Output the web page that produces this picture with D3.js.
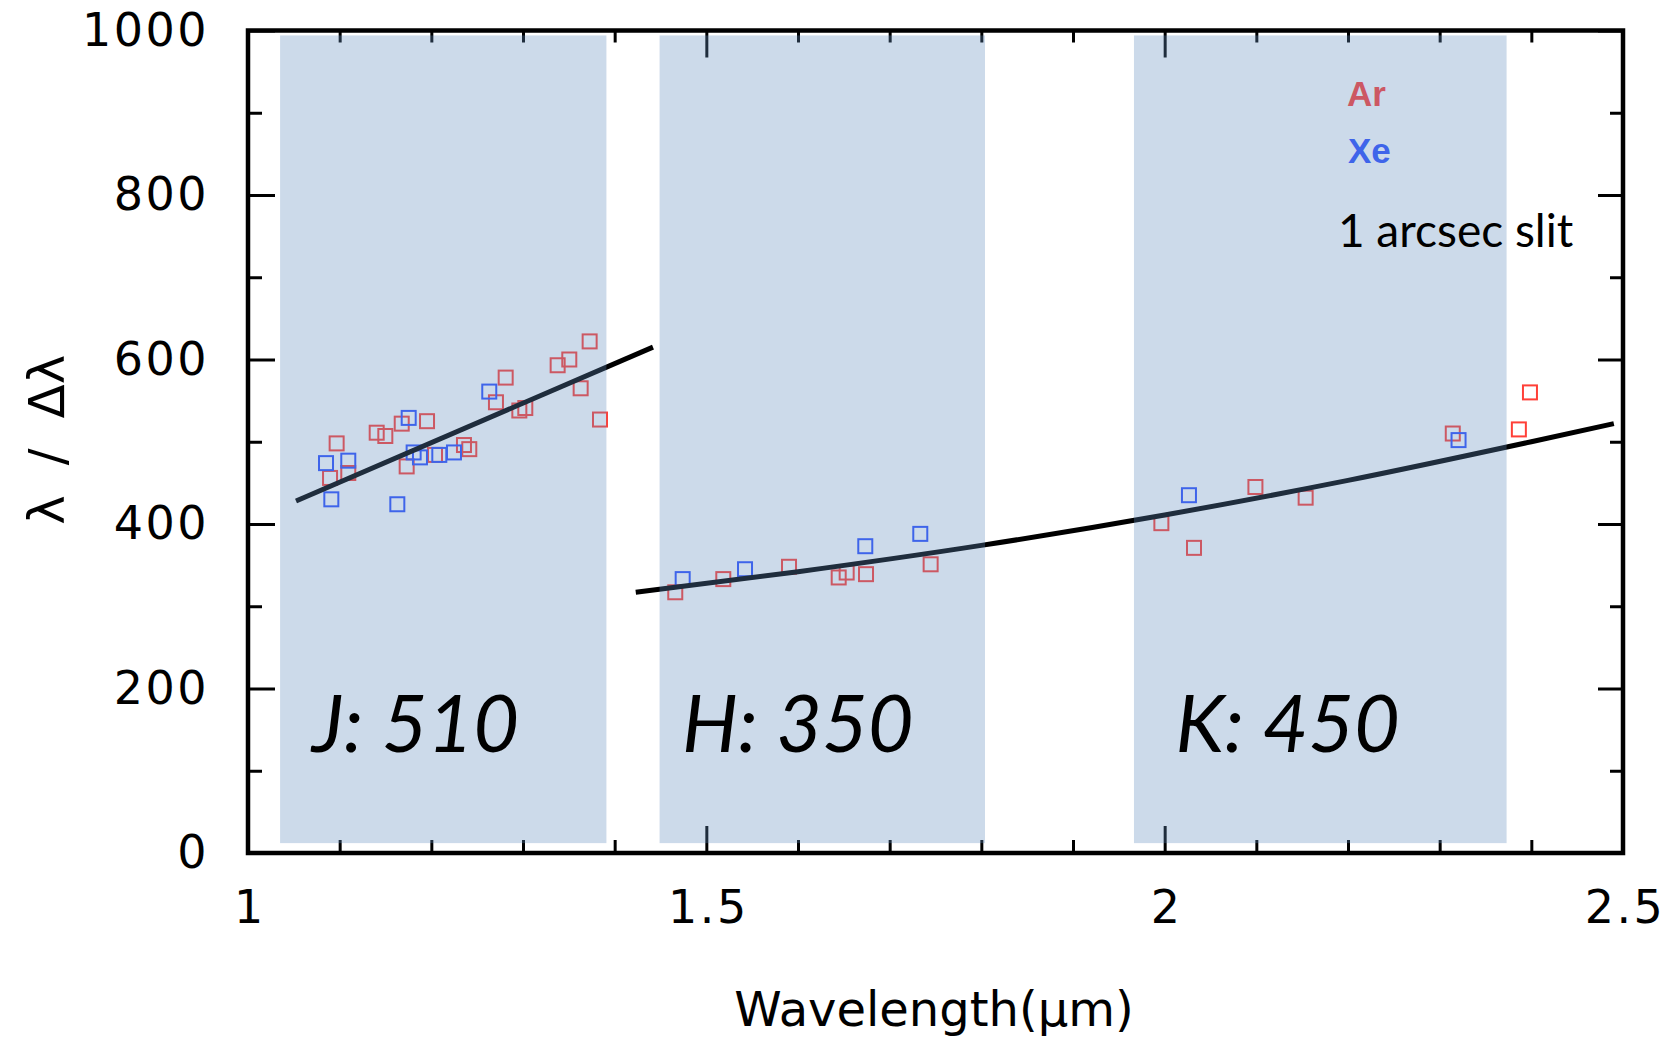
<!DOCTYPE html>
<html>
<head>
<meta charset="utf-8">
<script src="https://cdn.jsdelivr.net/npm/d3@7"></script>
<style>
  html, body { margin: 0; padding: 0; background: #ffffff; }
  svg { display: block; }
</style>
</head>
<body>
<svg id="chart" width="1671" height="1042"></svg>
<script>
// ---------------- DATA ----------------
// Ar (red) calibration points: wavelength (um), resolving power
const arWave = [1.0967, 1.0895, 1.1094, 1.1404, 1.1498, 1.1677, 1.1731, 1.1953, 1.2040, 1.2356,
                1.2414, 1.2705, 1.2811, 1.2960, 1.3025, 1.3378, 1.3505, 1.3727, 1.3629, 1.3840,
                1.4661, 1.5185, 1.5902, 1.6444, 1.6531, 1.6742, 1.7447,
                1.9964, 2.0320, 2.0990, 2.1538, 2.3143, 2.3864, 2.3985];
const arR    = [498, 456, 462, 511, 507, 522, 470, 525, 484, 496,
                491, 548, 578, 538, 541, 593, 600, 622, 565, 527,
                317, 333, 348, 335, 341, 339, 351,
                401, 371, 445, 432, 510, 515, 560];
// Xe (blue) calibration points
const xeWave = [1.0851, 1.0909, 1.1094, 1.1629, 1.1753, 1.1807, 1.1876, 1.2087, 1.2247, 1.2632,
                1.4742, 1.5422, 1.6734, 1.7334,
                2.0265, 2.3206];
const xeR    = [474, 430, 477, 424, 529, 487, 481, 484, 487, 561,
                333, 345, 373, 388,
                435, 502];
// Fitted curves
const jFitWave  = [1.0524, 1.4418];
const jFitR     = [428, 615];
const hkFitWave = [1.423, 1.6, 1.8, 2.0, 2.2, 2.4, 2.49];
const hkFitR    = [317, 342, 374, 411, 453, 500, 522];
// Band shading (wavelength ranges) and labels
const bandNames = ["J", "H", "K"];
const bandStart = [1.035, 1.449, 1.9665];
const bandEnd   = [1.391, 1.804, 2.373];
const bandLabels = ["J: 510", "H: 350", "K: 450"];
// Axis ticks
const xTickValues = [1, 1.5, 2, 2.5];
const xTickLabels = ["1", "1.5", "2", "2.5"];
const yTickValues = [0, 200, 400, 600, 800, 1000];
const yTickLabels = ["0", "200", "400", "600", "800", "1000"];

// ---------------- LAYOUT ----------------
const svg = d3.select("#chart");
const x = d3.scaleLinear().domain([1, 2.5]).range([248, 1623]);
const y = d3.scaleLinear().domain([0, 1000]).range([853, 30.5]);
const X0 = x.range()[0], X1 = x.range()[1], Y0 = y.range()[0], Y1 = y.range()[1];

const RED = "#ff4038", BLUE = "#2f52ff";

// ---------------- AXES ----------------
const tickFont = "DejaVu Sans, sans-serif";
function styleAxis(g, w) {
  g.select(".domain").remove();
  g.selectAll(".tick line").attr("stroke", "#000").attr("stroke-width", w);
  g.selectAll(".tick text").attr("fill", "#000").style("font-family", tickFont)
    .style("font-size", "46px").style("letter-spacing", "2.5px");
}
const xMinor = x.ticks(15).filter(v => !xTickValues.some(t => Math.abs(t - v) < 1e-6));
const yMinor = y.ticks(10).filter(v => !yTickValues.some(t => Math.abs(t - v) < 1e-6));

// bottom
svg.append("g").attr("transform", `translate(0,${Y0})`)
  .call(d3.axisBottom(x).tickValues(xTickValues).tickSize(-27).tickPadding(37)
        .tickFormat((d, i) => xTickLabels[i]))
  .call(g => styleAxis(g, 3))
  .call(g => g.selectAll(".tick text").attr("dx", "1.5px"));
svg.append("g").attr("transform", `translate(0,${Y0})`)
  .call(d3.axisBottom(x).tickValues(xMinor).tickSize(-13).tickFormat(""))
  .call(g => styleAxis(g, 3));
// top
svg.append("g").attr("transform", `translate(0,${Y1})`)
  .call(d3.axisTop(x).tickValues(xTickValues).tickSize(-27).tickFormat(""))
  .call(g => styleAxis(g, 3));
svg.append("g").attr("transform", `translate(0,${Y1})`)
  .call(d3.axisTop(x).tickValues(xMinor).tickSize(-12).tickFormat(""))
  .call(g => styleAxis(g, 3));
// left
svg.append("g").attr("transform", `translate(${X0},0)`)
  .call(d3.axisLeft(y).tickValues(yTickValues).tickSize(-27).tickPadding(39)
        .tickFormat((d, i) => yTickLabels[i]))
  .call(g => styleAxis(g, 3));
svg.append("g").attr("transform", `translate(${X0},0)`)
  .call(d3.axisLeft(y).tickValues(yMinor).tickSize(-14).tickFormat(""))
  .call(g => styleAxis(g, 3));
// right
svg.append("g").attr("transform", `translate(${X1},0)`)
  .call(d3.axisRight(y).tickValues(yTickValues).tickSize(-25).tickFormat(""))
  .call(g => styleAxis(g, 3));
svg.append("g").attr("transform", `translate(${X1},0)`)
  .call(d3.axisRight(y).tickValues(yMinor).tickSize(-13).tickFormat(""))
  .call(g => styleAxis(g, 3));

// frame
svg.append("rect")
  .attr("x", X0).attr("y", Y1).attr("width", X1 - X0).attr("height", Y0 - Y1)
  .attr("fill", "none").attr("stroke", "#000").attr("stroke-width", 4.5);

// axis titles
svg.append("text")
  .attr("x", (X0 + X1) / 2 - 1.5).attr("y", 1026)
  .attr("text-anchor", "middle")
  .style("font-family", tickFont).style("font-size", "48px")
  .text("Wavelength(\u03bcm)");
svg.append("text")
  .attr("transform", `translate(64,${(y(400) + y(600)) / 2 - 2}) rotate(-90)`)
  .attr("text-anchor", "middle")
  .style("font-family", tickFont).style("font-size", "50px")
  .style("word-spacing", "14px")
  .text("\u03bb / \u0394\u03bb");

// ---------------- MARKS ----------------
const sq = 14;
const arPts = arWave.map((w, i) => [w, arR[i]]);
const xePts = xeWave.map((w, i) => [w, xeR[i]]);

svg.append("g").selectAll("rect").data(arPts).join("rect")
  .attr("x", d => x(d[0]) - sq / 2).attr("y", d => y(d[1]) - sq / 2)
  .attr("width", sq).attr("height", sq)
  .attr("fill", "none").attr("stroke", RED).attr("stroke-width", 2);
svg.append("g").selectAll("rect").data(xePts).join("rect")
  .attr("x", d => x(d[0]) - sq / 2).attr("y", d => y(d[1]) - sq / 2)
  .attr("width", sq).attr("height", sq)
  .attr("fill", "none").attr("stroke", BLUE).attr("stroke-width", 2);

const line = d3.line().x(d => x(d[0])).y(d => y(d[1]));
svg.append("path")
  .datum(jFitWave.map((w, i) => [w, jFitR[i]]))
  .attr("d", line).attr("fill", "none").attr("stroke", "#000").attr("stroke-width", 5);
svg.append("path")
  .datum(hkFitWave.map((w, i) => [w, hkFitR[i]]))
  .attr("d", line.curve(d3.curveMonotoneX)).attr("fill", "none").attr("stroke", "#000").attr("stroke-width", 5);

// legend (under the band overlay)
svg.append("text").attr("x", x(2.199)).attr("y", y(908))
  .style("font-family", "Liberation Sans, Arial, sans-serif").style("font-weight", "bold")
  .style("font-size", "35px").attr("fill", RED).text("Ar");
svg.append("text").attr("x", x(2.200)).attr("y", y(839))
  .style("font-family", "Liberation Sans, Arial, sans-serif").style("font-weight", "bold")
  .style("font-size", "35px").attr("fill", BLUE).text("Xe");

// ---------------- BAND OVERLAY ----------------
svg.append("g").selectAll("rect").data(bandNames).join("rect")
  .attr("x", (d, i) => x(bandStart[i]))
  .attr("width", (d, i) => x(bandEnd[i]) - x(bandStart[i]))
  .attr("y", y(994)).attr("height", y(12) - y(994))
  .attr("fill", "rgb(97,141,191)").attr("fill-opacity", 0.32);

// band labels
const labelWave = [1.0698, 1.4734, 2.0118];
svg.append("g").selectAll("text").data(bandLabels).join("text")
  .attr("x", (d, i) => x(labelWave[i])).attr("y", y(123))
  .style("font-family", "Lato, 'Noto Sans', sans-serif").style("font-style", "italic")
  .style("font-size", "79px").attr("fill", "#000")
  .text(d => d);

svg.append("text").attr("x", x(2.189)).attr("y", y(737))
  .style("font-family", "Lato, 'Noto Sans', sans-serif")
  .style("font-size", "46px").attr("fill", "#000")
  .text("1 arcsec slit");
</script>
</body>
</html>
